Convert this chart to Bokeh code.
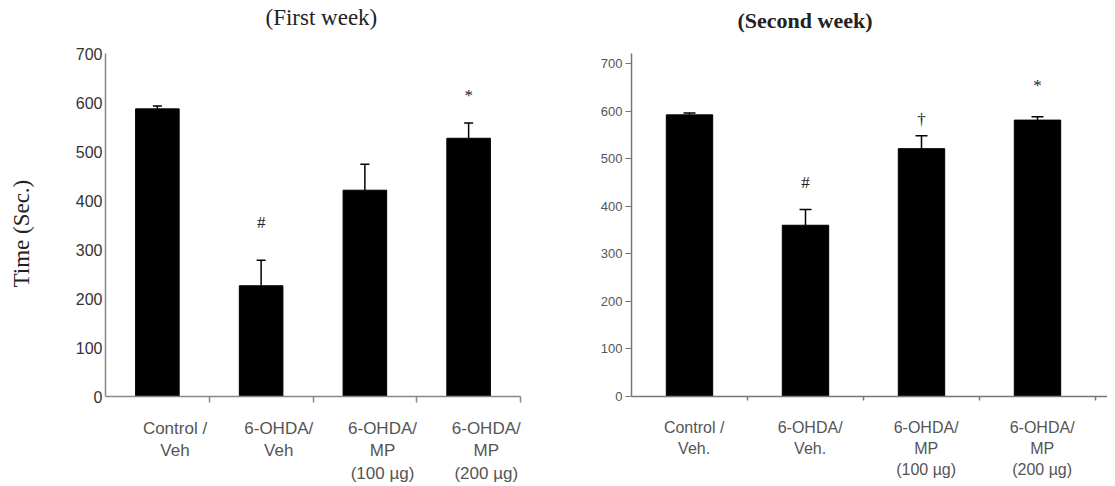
from bokeh.plotting import figure
from bokeh.models import (Range1d, FixedTicker, ColumnDataSource, Whisker, TeeHead,
                          LabelSet, CustomJSTickFormatter, LinearAxis)
from bokeh.layouts import row
from bokeh.embed import file_html
from bokeh.resources import INLINE

# ---------------- data ----------------
categories = ["Control / Veh", "6-OHDA / Veh", "6-OHDA / MP (100 µg)", "6-OHDA / MP (200 µg)"]
week1_labels = ["Control /\nVeh", "6-OHDA/\nVeh", "6-OHDA/\nMP\n(100 µg)", "6-OHDA/\nMP\n(200 µg)"]
week2_labels = ["Control /\nVeh.", "6-OHDA/\nVeh.", "6-OHDA/\nMP\n(100 µg)", "6-OHDA/\nMP\n(200 µg)"]

week1_mean = [587, 226, 421, 527]
week1_sem = [6, 52, 53, 31]
week1_marks = ["", "#", "", "*"]

week2_mean = [592, 360, 521, 581]
week2_sem = [4, 33, 27, 7]
week2_marks = ["", "#", "\u2020", "*"]

y_ticks = [0, 100, 200, 300, 400, 500, 600, 700]
titles = ["(First week)", "(Second week)"]
y_title = "Time (Sec.)"

SANS = "Liberation Sans"
SERIF = "Liberation Serif"


def panel(mean, sem, marks, labels, title, *, width, mb_left, mb_right, x_end, y_end, bar_w,
          tick_font, tick_color, axis_color, ytick_out, xtick_out, label_font, label_standoff,
          label_lh, label_shift, title_offset, title_gap, title_font, title_style,
          mark_dy, cap, ylabel=None):
    xs = [i + 0.5 for i in range(len(categories))]
    upper = [m + s for m, s in zip(mean, sem)]
    p = figure(width=width, height=486, x_range=Range1d(0, x_end), y_range=Range1d(0, y_end),
               output_backend="svg", toolbar_location=None,
               min_border_left=mb_left, min_border_right=mb_right,
               min_border_top=53, min_border_bottom=88)
    p.outline_line_color = None
    p.xgrid.visible = False
    p.ygrid.visible = False

    xa = p.below[0]   # the real x axis
    ya = p.left[0]    # the real y axis

    # invisible spacer axis between frame and title (one hidden tick, empty label)
    spacer = LinearAxis(ticker=FixedTicker(ticks=[xs[0]]), axis_line_color=None,
                        major_tick_line_color=None, minor_tick_line_color=None,
                        major_tick_out=title_gap, major_tick_in=0, minor_tick_out=0,
                        minor_tick_in=0, major_label_standoff=0,
                        formatter=CustomJSTickFormatter(code="return ''"))
    p.add_layout(spacer, "above")

    # title
    p.title.text = title
    p.title.align = "left"
    p.title.offset = title_offset
    p.title.standoff = 0
    p.title.text_font = SERIF
    p.title.text_font_size = title_font
    p.title.text_font_style = title_style
    p.title.text_color = "#222222"

    # x axis: category labels as tick labels, boundary ticks as minor ticks
    label_pos = [x + label_shift for x in xs]
    xa.ticker = FixedTicker(ticks=label_pos, minor_ticks=[1, 2, 3, 4])
    xa.formatter = CustomJSTickFormatter(args=dict(labels=labels),
                                         code="return labels[index] ?? ''")
    xa.axis_line_color = axis_color
    xa.axis_line_width = 1.5
    xa.major_tick_line_color = None
    xa.major_tick_out = 0
    xa.major_tick_in = 0
    xa.minor_tick_line_color = axis_color
    xa.minor_tick_line_width = 1.5
    xa.minor_tick_out = xtick_out
    xa.minor_tick_in = 0
    xa.major_label_standoff = label_standoff
    xa.major_label_text_font = SANS
    xa.major_label_text_font_size = label_font
    xa.major_label_text_color = "#555555"
    xa.major_label_text_line_height = label_lh

    # y axis
    ya.ticker = FixedTicker(ticks=y_ticks)
    ya.axis_line_color = axis_color
    ya.axis_line_width = 1.5
    ya.major_tick_line_color = axis_color if ytick_out else None
    ya.major_tick_out = ytick_out
    ya.major_tick_in = 0
    ya.minor_tick_line_color = None
    ya.major_label_text_font = SANS
    ya.major_label_text_font_size = tick_font
    ya.major_label_text_color = tick_color
    ya.major_label_standoff = 3
    if ylabel:
        ya.axis_label = ylabel + "\u00a0\u00a0\u00a0"
        ya.axis_label_text_font = SERIF
        ya.axis_label_text_font_size = "23px"
        ya.axis_label_text_font_style = "normal"
        ya.axis_label_text_color = "#222222"
        ya.axis_label_standoff = 39

    # bars
    p.vbar(x=xs, top=mean, bottom=0, width=bar_w, fill_color="black", line_color="black")

    # error bars (upper only)
    src = ColumnDataSource(dict(x=xs, mean=mean, upper=upper))
    p.add_layout(Whisker(source=src, base="x", lower="mean", upper="upper", dimension="height",
                         line_color="black", line_width=1.5,
                         upper_head=TeeHead(size=cap, line_color="black", line_width=1.5),
                         lower_head=None, level="overlay"))

    # significance marks
    for i, mk in enumerate(marks):
        if not mk:
            continue
        msrc = ColumnDataSource(dict(x=[xs[i]], y=[upper[i]], t=[mk]))
        p.add_layout(LabelSet(source=msrc, x="x", y="y", text="t", y_offset=mark_dy[i],
                              text_align="center", text_baseline="middle",
                              text_font=SANS, text_font_size="17px", text_color="#222222"))
    return p


p1 = panel(week1_mean, week1_sem, week1_marks, week1_labels, titles[0],
           width=555, mb_left=105, mb_right=35, x_end=4, y_end=700, bar_w=0.42,
           tick_font="16px", tick_color="#333333", axis_color="#888888",
           ytick_out=0, xtick_out=6, label_font="17px", label_standoff=16, label_lh=1.2,
           label_shift=0.17, title_offset=160, title_gap=24, title_font="23px",
           title_style="normal", mark_dy=[0, 38, 0, 28], cap=9, ylabel=y_title)

p2 = panel(week2_mean, week2_sem, week2_marks, week2_labels, titles[1],
           width=552, mb_left=76, mb_right=0, x_end=476 / 116, y_end=721, bar_w=0.40,
           tick_font="13px", tick_color="#555555", axis_color="#777777",
           ytick_out=6, xtick_out=4, label_font="16px", label_standoff=18, label_lh=1.25,
           label_shift=0.04, title_offset=106, title_gap=21, title_font="22px",
           title_style="bold", mark_dy=[0, 27, 16, 31], cap=12)

layout = row(p1, p2)
open("out.html", "w").write(file_html(layout, INLINE))
